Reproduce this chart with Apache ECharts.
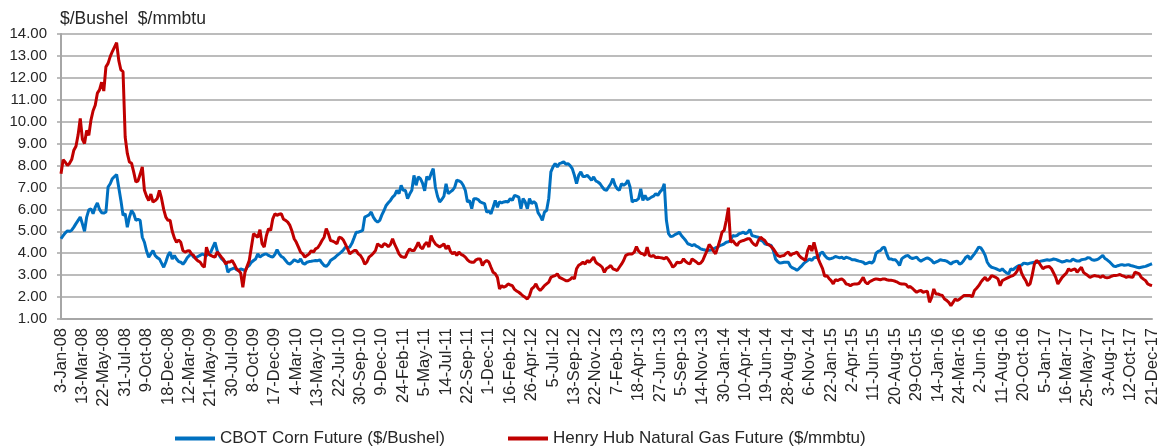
<!DOCTYPE html>
<html>
<head>
<meta charset="utf-8">
<script src="https://cdn.jsdelivr.net/npm/echarts@6/dist/echarts.min.js"></script>
<style>
  html, body { margin: 0; padding: 0; background: #fff; }
  #c_container { width: 1163px; height: 447px; }
</style>
</head>
<body>
<div id="c_container"></div>
<script>
// x-axis labels, one every 10 weekly points
var tickLabels = [
  "3-Jan-08", "13-Mar-08", "22-May-08", "31-Jul-08", "9-Oct-08", "18-Dec-08",
  "12-Mar-09", "21-May-09", "30-Jul-09", "8-Oct-09", "17-Dec-09",
  "4-Mar-10", "13-May-10", "22-Jul-10", "30-Sep-10", "9-Dec-10",
  "24-Feb-11", "5-May-11", "14-Jul-11", "22-Sep-11", "1-Dec-11",
  "16-Feb-12", "26-Apr-12", "5-Jul-12", "13-Sep-12", "22-Nov-12",
  "7-Feb-13", "18-Apr-13", "27-Jun-13", "5-Sep-13", "14-Nov-13",
  "30-Jan-14", "10-Apr-14", "19-Jun-14", "28-Aug-14", "6-Nov-14",
  "22-Jan-15", "2-Apr-15", "11-Jun-15", "20-Aug-15", "29-Oct-15",
  "14-Jan-16", "24-Mar-16", "2-Jun-16", "11-Aug-16", "20-Oct-16",
  "5-Jan-17", "16-Mar-17", "25-May-17", "3-Aug-17", "12-Oct-17", "21-Dec-17"
];

// CBOT corn ($/bushel), weekly
var corn = [
  4.66, 4.80, 4.93, 5.02, 5.00, 5.05, 5.19, 5.35, 5.50, 5.65,
  5.34, 5.00, 5.65, 5.98, 6.03, 5.80, 6.10, 6.29, 6.00, 5.85,
  5.83, 5.88, 7.02, 7.17, 7.40, 7.50, 7.59, 7.00, 6.41, 5.73, 5.80,
  5.19, 5.65, 5.95, 5.80, 5.50, 5.55, 5.50, 4.73, 4.50, 4.10,
  3.82, 3.97, 4.12, 3.90, 3.80, 3.74, 3.55, 3.36, 3.60, 3.90,
  4.05, 3.74, 3.90, 3.74, 3.62, 3.59, 3.50, 3.62, 3.79, 3.90,
  3.97, 3.82, 3.79, 3.85, 3.90, 3.97, 3.92, 3.90, 3.97, 4.05,
  4.28, 4.50, 4.12, 3.90, 3.75, 3.66, 3.59, 3.13, 3.25, 3.29, 3.33,
  3.25, 3.21, 3.29, 3.25, 3.20, 3.36, 3.45, 3.59, 3.67, 3.74,
  3.97, 3.82, 3.90, 3.95, 3.97, 3.90, 3.85, 3.82, 3.95, 4.16,
  3.97, 3.85, 3.79, 3.67, 3.55, 3.50, 3.59, 3.70, 3.65, 3.60,
  3.74, 3.55, 3.50, 3.59, 3.62, 3.63, 3.65, 3.67, 3.66, 3.70,
  3.55, 3.44, 3.40, 3.50, 3.67, 3.74, 3.80, 3.90, 3.97, 4.05, 4.15,
  4.28, 4.25, 4.28, 4.45, 4.70, 4.96, 4.96, 5.00, 5.04, 5.65,
  5.70, 5.75, 5.88, 5.65, 5.50, 5.42, 5.50, 5.75, 5.95, 6.18,
  6.30, 6.41, 6.56, 6.65, 6.87, 6.72, 7.10, 6.87, 6.87, 6.49,
  6.70, 6.87, 7.55, 7.10, 7.48, 7.40, 7.20, 6.85, 7.50, 7.35,
  7.63, 7.86, 7.02, 6.60, 6.34, 6.45, 6.60, 7.17, 6.72, 6.80, 6.87,
  7.00, 7.33, 7.30, 7.25, 7.10, 6.87, 6.34, 6.40, 6.03, 6.49,
  6.49, 6.45, 6.34, 6.30, 6.26, 5.88, 5.92, 5.80, 6.10, 6.41,
  6.10, 6.34, 6.30, 6.34, 6.36, 6.34, 6.49, 6.41, 6.64, 6.60,
  6.56, 6.03, 6.49, 6.34, 6.03, 6.49, 6.26, 6.35, 6.26, 5.85,
  5.70, 5.50, 5.88, 5.95, 6.50, 7.71, 7.94, 8.09, 7.94, 8.09,
  8.12, 8.17, 8.06, 8.09, 8.00, 7.86, 7.55, 7.17, 7.55, 7.71, 7.50,
  7.50, 7.55, 7.45, 7.33, 7.48, 7.30, 7.25, 7.17, 7.02, 6.90,
  6.87, 7.02, 7.17, 7.40, 7.10, 6.94, 6.87, 7.17, 7.10, 7.17,
  7.33, 7.02, 6.34, 6.41, 6.41, 6.49, 6.94, 6.41, 6.64, 6.45,
  6.49, 6.56, 6.60, 6.72, 6.64, 6.80, 6.90, 7.17, 5.50, 4.89, 4.76,
  4.78, 4.85, 4.89, 4.96, 4.81, 4.70, 4.58, 4.43, 4.40, 4.35,
  4.40, 4.32, 4.28, 4.20, 4.17, 4.15, 4.12, 4.14, 4.15, 4.20,
  4.25, 4.28, 4.35, 4.38, 4.43, 4.50, 4.52, 4.58, 4.81, 4.78,
  4.81, 4.89, 4.92, 4.96, 4.89, 4.95, 5.08, 4.81, 4.78, 4.75,
  4.73, 4.60, 4.55, 4.43, 4.40, 4.38, 4.35, 4.12, 3.74, 3.62, 3.55,
  3.57, 3.59, 3.59, 3.59, 3.40, 3.33, 3.29, 3.22, 3.30, 3.40,
  3.51, 3.60, 3.67, 3.74, 3.67, 3.80, 3.82, 3.79, 4.00, 4.05,
  3.90, 3.79, 3.74, 3.76, 3.79, 3.85, 3.82, 3.79, 3.82, 3.74,
  3.82, 3.79, 3.75, 3.70, 3.70, 3.67, 3.64, 3.62, 3.59, 3.51,
  3.55, 3.59, 3.55, 3.65, 4.00, 4.08, 4.12, 4.24, 4.28, 3.97, 3.74,
  3.74, 3.70, 3.70, 3.60, 3.44, 3.74, 3.82, 3.88, 3.90, 3.80,
  3.76, 3.79, 3.82, 3.70, 3.64, 3.70, 3.75, 3.79, 3.74, 3.67,
  3.55, 3.60, 3.64, 3.70, 3.68, 3.67, 3.64, 3.58, 3.51, 3.59,
  3.62, 3.64, 3.50, 3.55, 3.67, 3.82, 3.88, 3.72, 3.85, 3.97,
  4.12, 4.28, 4.24, 4.10, 3.90, 3.59, 3.44, 3.36, 3.33, 3.30, 3.25,
  3.21, 3.29, 3.18, 3.10, 3.06, 3.29, 3.24, 3.33, 3.40, 3.44,
  3.46, 3.55, 3.53, 3.51, 3.55, 3.57, 3.59, 3.58, 3.60, 3.64,
  3.66, 3.68, 3.70, 3.68, 3.70, 3.74, 3.72, 3.68, 3.64, 3.60,
  3.62, 3.67, 3.65, 3.64, 3.74, 3.68, 3.64, 3.64, 3.70, 3.72,
  3.74, 3.80, 3.78, 3.70, 3.68, 3.70, 3.74, 3.82, 3.90, 3.76, 3.70,
  3.62, 3.52, 3.42, 3.39, 3.43, 3.46, 3.48, 3.45, 3.46, 3.48,
  3.44, 3.42, 3.39, 3.36, 3.34, 3.36, 3.38, 3.40, 3.44, 3.48, 3.52
];

// Henry Hub natural gas ($/mmbtu), weekly
var gas = [
  7.63, 8.27, 8.15, 8.00, 8.10, 8.27, 8.70, 8.88, 9.40, 10.15,
  9.20, 9.00, 9.60, 9.38, 10.07, 10.50, 10.75, 11.30, 11.45, 11.80,
  11.40, 12.50, 12.66, 12.97, 13.20, 13.40, 13.60, 12.80, 12.36, 12.28, 9.30,
  8.55, 8.16, 8.10, 7.70, 7.25, 7.30, 7.60, 7.94, 6.87, 6.60,
  6.40, 6.70, 6.33, 6.40, 6.50, 6.87, 6.50, 6.00, 5.65, 5.50,
  5.50, 5.00, 4.70, 4.50, 4.60, 4.50, 4.12, 4.05, 4.10, 4.12,
  3.97, 3.90, 3.74, 3.65, 3.60, 3.45, 3.36, 4.28, 3.97, 3.90,
  3.85, 3.82, 4.05, 3.95, 3.82, 3.70, 3.51, 3.60, 3.60, 3.67, 3.50,
  3.30, 3.21, 3.10, 2.45, 3.13, 3.40, 3.67, 4.28, 4.89, 4.81,
  4.73, 5.07, 4.43, 4.28, 4.80, 5.12, 5.04, 5.57, 5.80, 5.73,
  5.78, 5.80, 5.55, 5.50, 5.42, 5.27, 5.00, 4.66, 4.50, 4.28,
  4.05, 3.97, 3.82, 3.90, 3.97, 4.12, 4.05, 4.20, 4.25, 4.40,
  4.58, 4.73, 5.12, 4.89, 4.58, 4.55, 4.50, 4.43, 4.73, 4.70, 4.60,
  4.40, 4.20, 3.97, 4.05, 4.12, 4.12, 3.97, 3.90, 3.74, 3.50,
  3.60, 3.82, 3.90, 4.00, 4.12, 4.43, 4.35, 4.28, 4.43, 4.40,
  4.30, 4.40, 4.66, 4.40, 4.20, 3.97, 3.85, 3.82, 3.82, 4.05,
  4.20, 4.12, 4.12, 4.28, 4.50, 4.28, 4.20, 4.40, 4.50, 4.28,
  4.81, 4.58, 4.43, 4.35, 4.28, 4.35, 4.43, 4.20, 4.35, 4.10, 3.97,
  4.05, 3.90, 4.05, 3.95, 3.90, 3.82, 3.70, 3.62, 3.59, 3.59,
  3.70, 3.74, 3.74, 3.44, 3.60, 3.67, 3.60, 3.36, 3.13, 3.06,
  2.90, 2.37, 2.52, 2.45, 2.50, 2.60, 2.55, 2.52, 2.35, 2.28,
  2.22, 2.14, 2.05, 1.99, 1.91, 2.06, 2.37, 2.45, 2.60, 2.40,
  2.30, 2.40, 2.52, 2.60, 2.68, 2.90, 2.95, 2.98, 3.06, 2.90,
  2.85, 2.80, 2.75, 2.75, 2.80, 2.90, 2.83, 3.29, 3.45, 3.51, 3.59,
  3.51, 3.67, 3.59, 3.70, 3.82, 3.59, 3.51, 3.45, 3.36, 3.13,
  3.30, 3.36, 3.44, 3.29, 3.25, 3.21, 3.36, 3.50, 3.67, 3.90,
  3.95, 3.97, 3.97, 4.05, 4.30, 4.10, 4.00, 3.97, 3.90, 4.28,
  3.90, 3.85, 3.90, 3.80, 3.82, 3.80, 3.78, 3.75, 3.82, 3.70, 3.55,
  3.36, 3.45, 3.59, 3.57, 3.59, 3.74, 3.62, 3.55, 3.51, 3.74,
  3.67, 3.60, 3.51, 3.55, 3.67, 3.90, 4.12, 4.40, 4.28, 4.10,
  3.97, 4.28, 4.58, 4.96, 5.04, 5.50, 6.08, 4.50, 4.58, 4.45,
  4.35, 4.50, 4.55, 4.58, 4.62, 4.66, 4.66, 4.50, 4.40, 4.35,
  4.58, 4.73, 4.65, 4.58, 4.43, 4.38, 4.30, 4.20, 4.05, 3.90, 3.85,
  3.88, 3.90, 4.00, 4.05, 3.90, 3.97, 4.00, 4.05, 3.90, 3.80,
  3.74, 3.67, 4.12, 4.35, 4.10, 4.50, 4.12, 3.74, 3.51, 3.30,
  2.95, 2.98, 2.85, 2.75, 2.60, 2.80, 2.75, 2.80, 2.83, 2.75,
  2.60, 2.58, 2.52, 2.58, 2.60, 2.60, 2.62, 2.75, 2.90, 2.68,
  2.60, 2.70, 2.75, 2.80, 2.83, 2.81, 2.79, 2.82, 2.83, 2.79, 2.77,
  2.77, 2.75, 2.72, 2.68, 2.62, 2.60, 2.60, 2.58, 2.45, 2.48,
  2.40, 2.30, 2.22, 2.28, 2.30, 2.22, 2.25, 2.27, 1.76, 1.99,
  2.37, 2.14, 2.14, 2.10, 2.07, 1.91, 1.85, 1.76, 1.61, 1.76,
  1.91, 1.84, 1.90, 1.99, 2.07, 2.07, 2.07, 2.07, 2.02, 2.30,
  2.40, 2.52, 2.68, 2.80, 2.90, 2.75, 2.83, 2.98, 2.94, 2.90, 2.83,
  2.52, 2.75, 2.80, 2.85, 2.90, 2.95, 2.98, 3.06, 3.20, 3.44,
  3.10, 2.90, 2.75, 2.52, 2.60, 3.00, 3.50, 3.67, 3.59, 3.44,
  3.29, 3.36, 3.38, 3.39, 3.29, 3.10, 2.90, 2.60, 2.75, 2.90,
  3.00, 3.10, 3.29, 3.21, 3.25, 3.29, 3.13, 3.25, 3.36, 3.13,
  3.05, 2.98, 2.90, 2.94, 2.98, 2.96, 2.95, 2.90, 2.98, 2.90, 2.88,
  2.90, 2.95, 2.98, 2.98, 3.00, 3.03, 2.98, 2.95, 2.90, 2.94,
  2.92, 2.90, 3.13, 3.10, 3.06, 2.90, 2.82, 2.75, 2.60, 2.55, 2.52
];

var seriesNames = ["CBOT Corn Future ($/Bushel)", "Henry Hub Natural Gas Future ($/mmbtu)"];
var colorList = ["#0070C0", "#C00000"];
var font_family = "'Liberation Sans', Arial, sans-serif";
var text_color = "#262626";
var grid_color = "#a6a6a6";

// one category per weekly observation
var weeks = [];
for (var k = 0; k < corn.length; k++) {
  weeks.push(k);
}

var myChart = echarts.init(document.getElementById("c_container"));

myChart.setOption({
  animation: false,
  color: colorList,
  textStyle: { fontFamily: font_family },
  title: {
    text: "$/Bushel  $/mmbtu",
    left: 55,
    top: 5,
    textStyle: { fontSize: 17.5, fontWeight: "normal", color: text_color, fontFamily: font_family },
  },
  grid: { left: 61, right: 11, top: 34, bottom: 128, containLabel: false },
  legend: [
    {
      data: [seriesNames[0]],
      left: 170,
      top: 425,
      icon: "rect",
      itemWidth: 40,
      itemHeight: 4,
      textStyle: { fontSize: 17, color: text_color, fontFamily: font_family },
    },
    {
      data: [seriesNames[1]],
      left: 503,
      top: 425,
      icon: "rect",
      itemWidth: 40,
      itemHeight: 4,
      textStyle: { fontSize: 17, color: text_color, fontFamily: font_family },
    },
  ],
  xAxis: {
    type: "category",
    boundaryGap: false,
    data: weeks,
    axisLine: { show: true, lineStyle: { color: grid_color, width: 2 } },
    axisTick: { show: false },
    splitLine: { show: false }, // 不显示网格线
    axisLabel: {
      interval: 9,
      rotate: 90,
      margin: 9,
      fontSize: 16.5,
      color: text_color,
      fontFamily: font_family,
      formatter: function (value) {
        var idx = Number(value);
        return idx % 10 === 0 ? tickLabels[idx / 10] : "";
      },
    },
  },
  yAxis: {
    type: "value",
    min: 1,
    max: 14,
    interval: 1,
    axisLine: { show: true, lineStyle: { color: grid_color, width: 2 } },
    axisTick: { show: true, length: 4, lineStyle: { color: grid_color, width: 1.5 } },
    splitLine: { show: true, lineStyle: { color: grid_color, width: 1.5 } },
    axisLabel: {
      margin: 14,
      fontSize: 15,
      color: text_color,
      fontFamily: font_family,
      formatter: function (v) {
        return v.toFixed(2);
      },
    },
  },
  series: [
    {
      name: seriesNames[0],
      type: "line",
      data: corn,
      showSymbol: false,
      symbol: "none",
      lineStyle: { width: 3, color: colorList[0] },
      itemStyle: { color: colorList[0] },
      z: 2,
    },
    {
      name: seriesNames[1],
      type: "line",
      data: gas,
      showSymbol: false,
      symbol: "none",
      lineStyle: { width: 3, color: colorList[1] },
      itemStyle: { color: colorList[1] },
      z: 3,
    },
  ],
});
</script>
</body>
</html>
